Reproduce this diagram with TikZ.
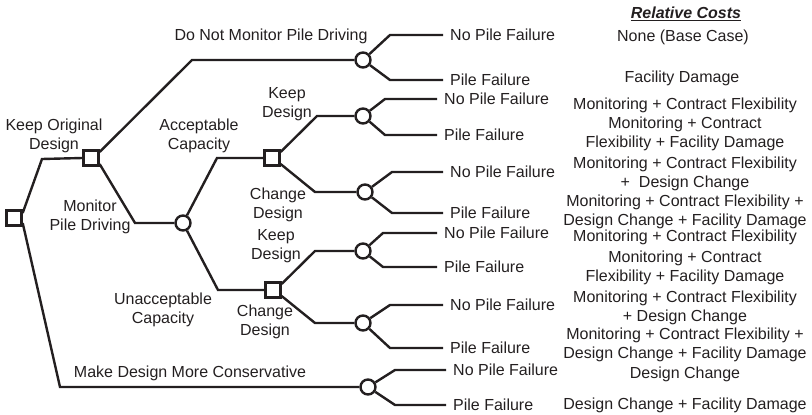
\documentclass[tikz,border=0pt]{standalone}
\usepackage{fontspec}
\setmainfont{Liberation Sans}
\definecolor{ink}{RGB}{35,31,32}
\begin{document}
\begin{tikzpicture}[x=1pt,y=-1pt,
  every node/.style={font=\fontsize{16}{19}\selectfont, text=ink},
  branch/.style={draw=ink, line width=2.4pt, line join=miter},
  decision/.style={draw=ink, line width=2.4pt, rectangle, minimum size=15pt, inner sep=0pt, fill=white},
  chance/.style={draw=ink, line width=2.4pt, circle, minimum size=15pt, inner sep=0pt, fill=white},
  lbl/.style={align=center, inner sep=0pt},
  outcome/.style={anchor=west, inner xsep=7pt, inner ysep=0pt},
  cost/.style={align=center, inner sep=0pt}]
\useasboundingbox (0,0) rectangle (812,415);

% decision and chance nodes
\node[decision] (root) at (14,218) {};
\node[decision] (d1) at (91,158) {};
\node[chance] (cdn) at (363,60) {};
\node[chance] (cmon) at (183,223) {};
\node[decision] (dacc) at (272,158) {};
\node[decision] (dun) at (273,290) {};
\node[chance] (cak) at (363,116) {};
\node[chance] (cac) at (365,192) {};
\node[chance] (cuk) at (363,251) {};
\node[chance] (cuc) at (363,323) {};
\node[chance] (ccons) at (368,387) {};

% outcomes
\node[outcome] (o1) at (443,35) {No Pile Failure};
\node[outcome] (o2) at (443,80) {Pile Failure};
\node[outcome] (o3) at (437,99) {No Pile Failure};
\node[outcome] (o4) at (437,135) {Pile Failure};
\node[outcome] (o5) at (443,172) {No Pile Failure};
\node[outcome] (o6) at (443,213) {Pile Failure};
\node[outcome] (o7) at (437,233) {No Pile Failure};
\node[outcome] (o8) at (437,267) {Pile Failure};
\node[outcome] (o9) at (443,305) {No Pile Failure};
\node[outcome] (o10) at (443,348) {Pile Failure};
\node[outcome] (o11) at (446,370) {No Pile Failure};
\node[outcome] (o12) at (446,405) {Pile Failure};

% branches
\draw[branch] (root.30) -- (42,159) -- (d1.west);
\draw[branch] (root.-30) -- (60,387) -- (ccons.west);
\draw[branch] (d1.35) -- (192,60) -- (cdn.west);
\draw[branch] (d1.-35) -- (135,223) -- (cmon.west);
\draw[branch] (cmon) -- (217,158) -- (dacc.west);
\draw[branch] (cmon) -- (218,290) -- (dun.west);
\draw[branch] (dacc.35) -- (317,116) -- (cak.west);
\draw[branch] (dacc.-35) -- (315,192) -- (cac.west);
\draw[branch] (dun.35) -- (315,251) -- (cuk.west);
\draw[branch] (dun.-35) -- (315,323) -- (cuc.west);

\draw[branch] (cdn) -- (390,35) -- (o1.west);
\draw[branch] (cdn) -- (390,80) -- (o2.west);
\draw[branch] (cak) -- (385,99) -- (o3.west);
\draw[branch] (cak) -- (385,135) -- (o4.west);
\draw[branch] (cac) -- (392,172) -- (o5.west);
\draw[branch] (cac) -- (392,213) -- (o6.west);
\draw[branch] (cuk) -- (383,233) -- (o7.west);
\draw[branch] (cuk) -- (383,267) -- (o8.west);
\draw[branch] (cuc) -- (390,305) -- (o9.west);
\draw[branch] (cuc) -- (390,348) -- (o10.west);
\draw[branch] (ccons) -- (395,370) -- (o11.west);
\draw[branch] (ccons) -- (395,405) -- (o12.west);

% branch labels
\node[lbl] (l1) at (54,136) {Keep Original\\Design};
\node[lbl] (l2) at (90,217) {Monitor\\Pile Driving};
\node[lbl] (l3) at (271,36) {Do Not Monitor Pile Driving};
\node[lbl] (l4) at (287,104) {Keep\\Design};
\node[lbl] (l5) at (199,136) {Acceptable\\Capacity};
\node[lbl] (l6) at (278,205) {Change\\Design};
\node[lbl] (l7) at (276,246) {Keep\\Design};
\node[lbl] (l8) at (163,310) {Unacceptable\\Capacity};
\node[lbl] (l9) at (265,322) {Change\\Design};
\node[lbl] (l10) at (190,373) {Make Design More Conservative};

% relative costs column
\node[cost] (hdr) at (686,14) {\underline{\textbf{\textit{Relative Costs}}}};
\node[cost] (k1) at (683,37) {None (Base Case)};
\node[cost] (k2) at (682,78) {Facility Damage};
\node[cost] (k3) at (685,105) {Monitoring + Contract Flexibility};
\node[cost] (k4) at (685,134) {Monitoring + Contract\\Flexibility + Facility Damage};
\node[cost] (k5) at (685,174) {Monitoring + Contract Flexibility\\+\ \ Design Change};
\node[cost] (k6) at (685,211.5) {Monitoring + Contract Flexibility +\\Design Change + Facility Damage};
\node[cost] (k7) at (685,237) {Monitoring + Contract Flexibility};
\node[cost] (k8) at (685,267.5) {Monitoring + Contract\\Flexibility + Facility Damage};
\node[cost] (k9) at (685,308) {Monitoring + Contract Flexibility\\+ Design Change};
\node[cost] (k10) at (685,345) {Monitoring + Contract Flexibility +\\Design Change + Facility Damage};
\node[cost] (k11) at (685,374) {Design Change};
\node[cost] (k12) at (685,405) {Design Change + Facility Damage};
\end{tikzpicture}
\end{document}
